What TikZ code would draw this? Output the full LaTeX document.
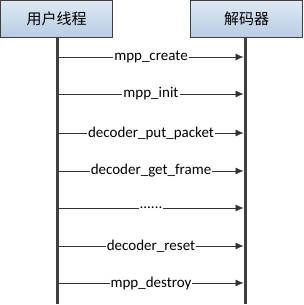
\documentclass[tikz,border=0pt]{standalone}
\usepackage{fontspec}
\setmainfont{Carlito}
\newfontfamily\cjkfont{Noto Sans CJK SC}
\usepackage{tikz}
\usetikzlibrary{
  arrows.meta,
  positioning
}
\definecolor{BoxTop}{RGB}{222, 232, 243}
\definecolor{BoxBottom}{RGB}{184, 204, 228}
\definecolor{LineGray}{RGB}{64, 64, 64}
\newcommand{\msgdots}{......}
\tikzset{
    actor/.style={rectangle, draw=LineGray, line width=1pt, top color=BoxTop, bottom color=BoxBottom,
        minimum width=112pt, minimum height=37pt, inner sep=0pt, font=\fontsize{15}{18}\selectfont\cjkfont},
    lifeline/.style={draw=LineGray, line width=3pt},
    msg/.style={-{Latex[length=8pt,width=7pt]}, draw=black!80, line width=0.7pt},
    msglabel/.style={fill=white, inner sep=1pt, font=\fontsize{15}{18}\selectfont}
}

\begin{document}
\begin{tikzpicture}[x=1pt,y=-1pt]
            \useasboundingbox (0,0) rectangle (303,305);
            \node[actor] (user) at (56.5,19) {用户线程};
            \node[actor] (dec) at (246.5,19) {解码器};
            \coordinate (userend) at (57,304);
            \coordinate (decend) at (245,304);
            \draw[lifeline] (user.south -| userend) -- (userend);
            \draw[lifeline] (dec.south -| decend) -- (decend);
            \foreach \y/\txt [count=\i] in {57/mpp\_create, 94/mpp\_init, 133/decoder\_put\_packet,
                171/decoder\_get\_frame, 208/\msgdots, 246/decoder\_reset, 283/mpp\_destroy} {
                \coordinate (from\i) at (58.5,\y);
                \coordinate (to\i) at (243.5,\y);
                \draw[msg] (from\i) -- node[msglabel] (lbl\i) {\txt} (to\i);
            }
        \end{tikzpicture}
\end{document}
